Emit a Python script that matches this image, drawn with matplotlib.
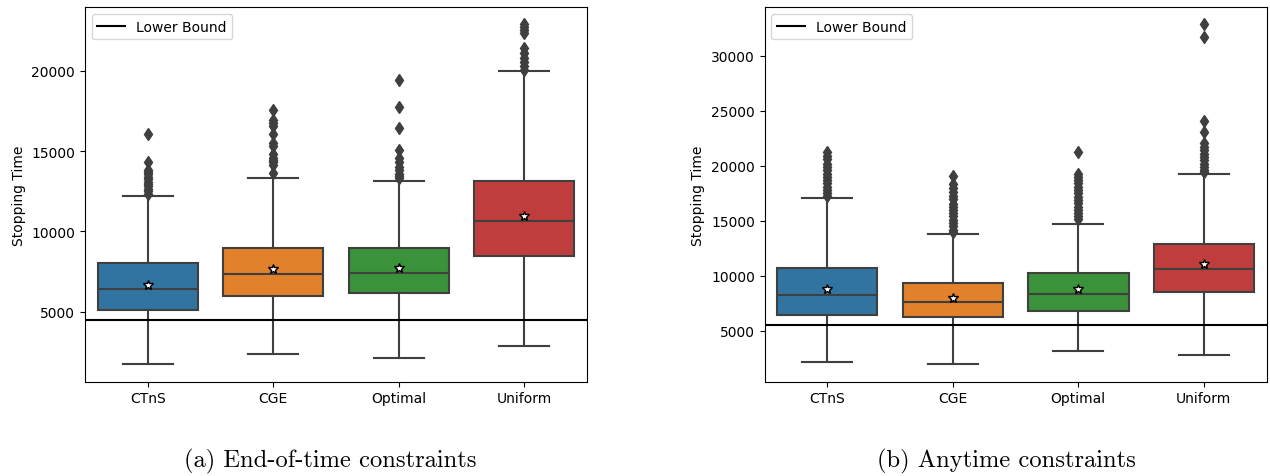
import matplotlib
matplotlib.use("Agg")
import matplotlib.pyplot as plt

algos = ["CTnS", "CGE", "Optimal", "Uniform"]
colors = ["#3274a1", "#e1812c", "#3a923a", "#c03d3e"]

# end-of-time constraints: q1, median, q3, whisker low, whisker high, mean
eot_q1 = [5130, 5960, 6170, 8460]
eot_med = [6380, 7360, 7380, 10670]
eot_q3 = [8000, 8940, 8980, 13130]
eot_lo = [1750, 2360, 2130, 2830]
eot_hi = [12190, 13350, 13150, 20020]
eot_mean = [6630, 7630, 7730, 10940]
eot_fliers = [
    [12350, 12500, 12650, 12800, 12950, 13100, 13250, 13400, 13550, 13700, 13830, 14310, 16080],
    [13620, 14150, 14300, 14450, 14600, 14810, 15300, 15500, 16060, 16540, 16750, 16960, 17580],
    [13310, 13450, 13600, 13800, 14000, 14300, 14600, 15080, 16440, 17730, 19420],
    [20080, 20300, 20550, 20800, 21100, 21440, 22380, 22550, 22750, 22950],
]
eot_bound = 4450

# anytime constraints
any_q1 = [6430, 6220, 6820, 8550]
any_med = [8220, 7640, 8360, 10670]
any_q3 = [10700, 9310, 10220, 12880]
any_lo = [2160, 1950, 3220, 2820]
any_hi = [17060, 13790, 14670, 19250]
any_mean = [8820, 7970, 8790, 11040]
any_fliers = [
    [17270, 17500, 17800, 18100, 18400, 18700, 19000, 19300, 19600, 19900, 20200, 20600, 20900, 21220],
    [13970, 14200, 14500, 14800, 15100, 15400, 15700, 16000, 16250, 16520, 16970, 17300, 17650, 18000, 18330, 19090],
    [15150, 15400, 15700, 16000, 16300, 16600, 16900, 17200, 17500, 17800, 18100, 18400, 18700, 19000, 19250, 21220],
    [19400, 19650, 19900, 20200, 20500, 20800, 21100, 21400, 21700, 22120, 23090, 24090, 31670, 32880],
]
any_bound = 5500

captions = ["(a) End-of-time constraints", "(b) Anytime constraints"]

fig = plt.figure(figsize=(12.7, 4.77), dpi=100)
ax1 = fig.add_axes([0.0669, 0.198, 0.3953, 0.7845])
ax2 = fig.add_axes([0.602, 0.198, 0.3953, 0.7845])

line_col = "#3f3f3f"


def draw(ax, q1, med, q3, lo, hi, mean, fliers, bound):
    stats = []
    for i in range(len(algos)):
        stats.append({"q1": q1[i], "med": med[i], "q3": q3[i], "whislo": lo[i],
                      "whishi": hi[i], "mean": mean[i], "fliers": fliers[i], "label": algos[i]})
    bp = ax.bxp(stats, positions=range(len(algos)), widths=0.8, patch_artist=True,
                showmeans=True, showfliers=True,
                boxprops=dict(edgecolor=line_col, linewidth=1.5),
                medianprops=dict(color=line_col, linewidth=1.5),
                whiskerprops=dict(color=line_col, linewidth=1.5),
                capprops=dict(color=line_col, linewidth=1.5),
                flierprops=dict(marker="d", markerfacecolor=line_col, markeredgecolor=line_col,
                                markersize=6, linestyle="none"),
                meanprops=dict(marker="*", markerfacecolor="white", markeredgecolor="black",
                               markersize=7, markeredgewidth=1))
    for patch, c in zip(bp["boxes"], colors):
        patch.set_facecolor(c)
    for cap in bp["caps"]:
        x = cap.get_xdata()
        mid = (x[0] + x[1]) / 2
        cap.set_xdata([mid - 0.2, mid + 0.2])
    ax.axhline(bound, color="black", linewidth=1.5, label="Lower Bound")
    ax.set_xlim(-0.5, 3.5)
    ax.set_ylabel("Stopping Time", fontsize=10)
    ax.tick_params(labelsize=10)
    ax.legend(loc="upper left", fontsize=10)


draw(ax1, eot_q1, eot_med, eot_q3, eot_lo, eot_hi, eot_mean, eot_fliers, eot_bound)
draw(ax2, any_q1, any_med, any_q3, any_lo, any_hi, any_mean, any_fliers, any_bound)
ax1.set_ylim(640, 23960)
ax2.set_ylim(400, 34400)

fig.text(330 / 1270, 1 - 467 / 477, captions[0], family="cmr10", fontsize=17.7, ha="center", va="baseline")
fig.text(1006 / 1270, 1 - 467 / 477, captions[1], family="cmr10", fontsize=17.7, ha="center", va="baseline")

fig.savefig("out.png", dpi=100)
